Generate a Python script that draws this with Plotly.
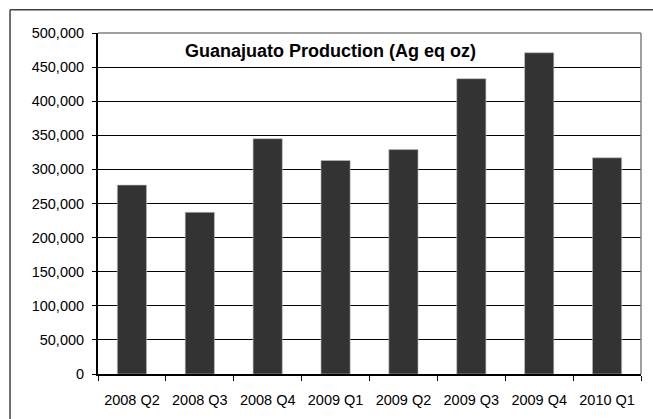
import plotly.graph_objects as go

quarters = ["2008 Q2", "2008 Q3", "2008 Q4", "2009 Q1", "2009 Q2", "2009 Q3", "2009 Q4", "2010 Q1"]
production = [277000, 237000, 345000, 313000, 329000, 433000, 471000, 317000]
y_ticks = list(range(0, 500001, 50000))
y_tick_text = ["0"] + [f"{v:,}" for v in y_ticks[1:]]

font_family = "Liberation Sans, Arial, sans-serif"

fig = go.Figure(
    go.Bar(
        x=quarters,
        y=production,
        width=0.43,
        marker=dict(color="#333333", line=dict(color="#bdbdbd", width=0.6)),
    )
)

fig.update_layout(
    width=653,
    height=419,
    margin=dict(l=98, r=12, t=33, b=45),
    paper_bgcolor="white",
    plot_bgcolor="white",
    showlegend=False,
    font=dict(family=font_family, size=14, color="#000000"),
    xaxis=dict(
        type="category",
        showgrid=False,
        showline=True,
        linecolor="#000000",
        linewidth=2,
        ticks="outside",
        tickson="boundaries",
        ticklen=5,
        tickcolor="#000000",
        tickwidth=1,
        ticklabelstandoff=12,
        tickfont=dict(size=14.5),
    ),
    yaxis=dict(
        range=[0, 500000],
        tickvals=y_ticks,
        ticktext=y_tick_text,
        showgrid=True,
        gridcolor="#000000",
        gridwidth=1.3,
        showline=True,
        linecolor="#000000",
        linewidth=2,
        ticks="outside",
        ticklen=4,
        tickcolor="#000000",
        zeroline=False,
        ticklabelstandoff=5,
        tickfont=dict(size=14.5),
    ),
    annotations=[
        dict(
            text="<b>Guanajuato Production (Ag eq oz)</b>",
            xref="paper", yref="paper",
            x=0.429, y=0.946,
            xanchor="center", yanchor="middle",
            showarrow=False,
            font=dict(size=18, family=font_family, color="#000000"),
        )
    ],
    shapes=[
        # plot-area border, top and right
        dict(type="line", xref="paper", yref="paper", x0=0, x1=1, y0=1, y1=1,
             line=dict(color="#808080", width=1.5), layer="above"),
        dict(type="line", xref="paper", yref="paper", x0=1, x1=1, y0=0, y1=1,
             line=dict(color="#808080", width=1.5), layer="above"),
        # outer chart frame
        dict(type="line", xref="paper", yref="paper", x0=-0.162, x1=1.05, y0=1.0685, y1=1.0685,
             line=dict(color="#404040", width=1.5)),
        dict(type="line", xref="paper", yref="paper", x0=-0.162, x1=-0.162, y0=-0.2, y1=1.0685,
             line=dict(color="#404040", width=1.5)),
    ],
)

fig.write_html("out.html")
